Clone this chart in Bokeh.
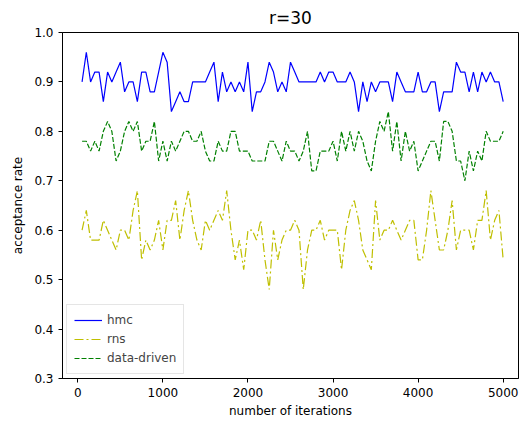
from bokeh.plotting import figure
from bokeh.models import FixedTicker, Legend, LegendItem, Range1d, CustomJSTickFormatter
from bokeh.embed import file_html
from bokeh.resources import INLINE

iterations = list(range(50, 5001, 50))

hmc = [0.90, 0.96, 0.90, 0.92, 0.92, 0.86, 0.92, 0.90, 0.92, 0.94, 0.88, 0.90, 0.90, 0.86, 0.92, 0.92, 0.88, 0.88, 0.92, 0.96, 0.94, 0.84, 0.86, 0.88,
       0.86, 0.86, 0.90, 0.90, 0.90, 0.90, 0.92, 0.94, 0.86, 0.92, 0.88, 0.90, 0.88, 0.90, 0.88, 0.94, 0.84, 0.88, 0.88, 0.90, 0.94, 0.92, 0.88, 0.90, 0.88, 0.94, 0.92,
       0.90, 0.90, 0.90, 0.90, 0.90, 0.92, 0.90, 0.92, 0.92, 0.90, 0.90, 0.90, 0.92, 0.90, 0.84, 0.90, 0.86, 0.90, 0.88, 0.90, 0.90, 0.90, 0.86, 0.92,
       0.90, 0.88, 0.88, 0.88, 0.92, 0.88, 0.88, 0.90, 0.90, 0.84, 0.88, 0.88, 0.88, 0.94, 0.92, 0.92, 0.88, 0.92, 0.88, 0.92, 0.90, 0.92, 0.90, 0.90, 0.86]

rns = [0.60, 0.64, 0.58, 0.58, 0.58, 0.62, 0.60, 0.58, 0.56, 0.60, 0.60, 0.58, 0.64, 0.68, 0.54, 0.58, 0.56, 0.58, 0.62, 0.56, 0.62, 0.62, 0.66, 0.58,
       0.64, 0.68, 0.62, 0.58, 0.56, 0.62, 0.60, 0.62, 0.64, 0.62, 0.68, 0.60, 0.54, 0.58, 0.52, 0.60, 0.60, 0.58, 0.62, 0.54, 0.48, 0.60, 0.54, 0.58, 0.60, 0.60,
       0.62, 0.60, 0.48, 0.56, 0.60, 0.60, 0.62, 0.58, 0.60, 0.60, 0.60, 0.52, 0.60, 0.64, 0.66, 0.62, 0.56, 0.54, 0.52, 0.66, 0.58, 0.60, 0.60, 0.62, 0.60,
       0.58, 0.60, 0.62, 0.62, 0.54, 0.54, 0.60, 0.68, 0.62, 0.56, 0.56, 0.60, 0.66, 0.56, 0.60, 0.60, 0.60, 0.56, 0.62, 0.62, 0.68, 0.58, 0.62, 0.64, 0.54]

data_driven = [0.78, 0.78, 0.76, 0.78, 0.76, 0.80, 0.82, 0.80, 0.74, 0.76, 0.80, 0.82, 0.80, 0.82, 0.76, 0.78, 0.78, 0.82, 0.74, 0.78, 0.74, 0.78, 0.76, 0.78,
               0.80, 0.80, 0.78, 0.78, 0.80, 0.76, 0.74, 0.74, 0.78, 0.76, 0.76, 0.80, 0.80, 0.76, 0.76, 0.76, 0.74, 0.74, 0.74, 0.74, 0.78, 0.78, 0.76, 0.74, 0.78, 0.76,
               0.76, 0.74, 0.76, 0.80, 0.72, 0.72, 0.76, 0.76, 0.76, 0.78, 0.74, 0.80, 0.76, 0.80, 0.76, 0.80, 0.78, 0.74, 0.72, 0.78, 0.82, 0.80, 0.84, 0.76, 0.82, 0.74, 0.80, 0.76,
               0.78, 0.72, 0.74, 0.76, 0.78, 0.78, 0.74, 0.82, 0.82, 0.80, 0.74, 0.74, 0.70, 0.76, 0.72, 0.76, 0.74, 0.80, 0.78, 0.78, 0.78, 0.80]

x_ticks = [0, 1000, 2000, 3000, 4000, 5000]
y_ticks = [0.3, 0.4, 0.5, 0.6, 0.7, 0.8, 0.9, 1.0]

FONT = "DejaVu Sans"

p = figure(width=527, height=421, output_backend="svg", toolbar_location=None,
           x_range=Range1d(-180, 5180), y_range=Range1d(0.3, 1.0),
           title="r=30", min_border_left=62, min_border_right=9,
           min_border_top=31, min_border_bottom=43)

p.title.align = "center"
p.title.text_font = FONT
p.title.text_font_size = "17px"
p.title.text_font_style = "normal"
p.title.text_color = "black"
p.title.offset = 0

l1 = p.line(iterations, hmc, line_color="#0000ff", line_width=1.2)
l2 = p.line(iterations, rns, line_color="#bfbf00", line_width=1.2, line_dash="9 3 2 3")
l3 = p.line(iterations, data_driven, line_color="#008000", line_width=1.2, line_dash="5 2")

p.xgrid.visible = False
p.ygrid.visible = False
p.outline_line_color = "black"
p.outline_line_alpha = 1
p.outline_line_width = 1

for ax in (p.xaxis[0], p.yaxis[0]):
    ax.axis_line_color = "black"
    ax.major_tick_line_color = "black"
    ax.major_tick_out = 4
    ax.major_tick_in = 0
    ax.minor_tick_line_color = None
    ax.major_label_text_font = FONT
    ax.major_label_text_font_size = "12px"
    ax.major_label_text_color = "black"
    ax.axis_label_text_font = FONT
    ax.axis_label_text_font_size = "12px"
    ax.axis_label_text_font_style = "normal"
    ax.axis_label_text_color = "black"

p.xaxis.ticker = FixedTicker(ticks=x_ticks)
p.yaxis.ticker = FixedTicker(ticks=y_ticks)
p.yaxis.formatter = CustomJSTickFormatter(code="return tick.toFixed(1);")
p.xaxis.axis_label = "number of iterations"
p.yaxis.axis_label = "acceptance rate"
p.xaxis.axis_label_standoff = 4
p.yaxis.axis_label_standoff = 6

legend = Legend(items=[LegendItem(label="hmc", renderers=[l1]),
                       LegendItem(label="rns", renderers=[l2]),
                       LegendItem(label="data-driven", renderers=[l3])],
                location="bottom_left")
legend.label_text_font = FONT
legend.label_text_font_size = "12px"
legend.border_line_color = "#cccccc"
legend.border_line_width = 1
legend.background_fill_alpha = 0.8
legend.glyph_width = 28
legend.glyph_height = 16
legend.label_height = 16
legend.spacing = 3
legend.padding = 7
legend.margin = 4
p.add_layout(legend)

open("out.html", "w").write(file_html(p, INLINE))
